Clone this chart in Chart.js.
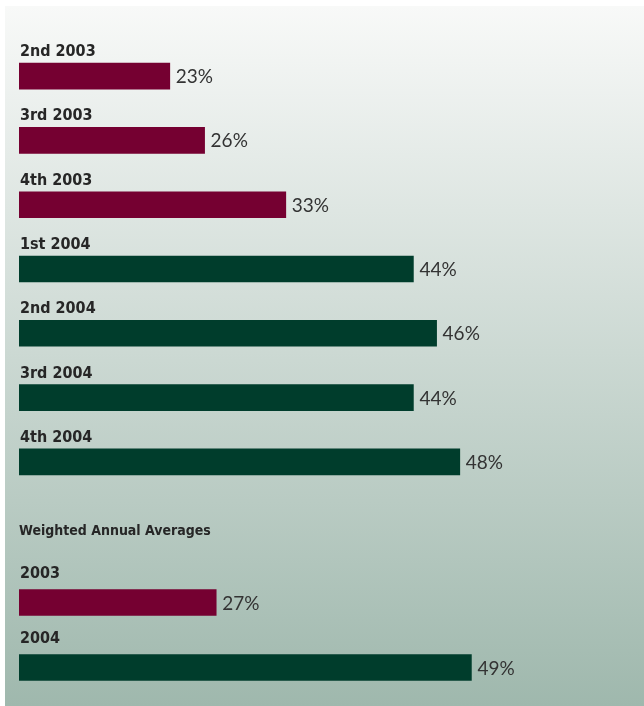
<!DOCTYPE html>
<html>
<head>
<meta charset="utf-8">
<script src="https://cdn.jsdelivr.net/npm/chart.js@4.4.0/dist/chart.umd.min.js"></script>
<style>
    html, body { margin: 0; padding: 0; background: #fff; }
    body { width: 644px; height: 706px; position: relative; overflow: hidden; }
    .panel {
        position: absolute; left: 5px; top: 6px; right: 0; bottom: 0;
        background: linear-gradient(to bottom, #f8f9f8 0%, #9fb8ad 100%);
    }
    #quarters { position: absolute; left: 0; top: 0; }
    #annual { position: absolute; left: 0; top: 500px; }
</style>
</head>
<body>
<div class="panel"></div>
<canvas id="quarters" width="644" height="500"></canvas>
<canvas id="annual" width="644" height="206"></canvas>
<script>
// Quarterly figures
const quarterLabels = ['2nd 2003', '3rd 2003', '4th 2003', '1st 2004', '2nd 2004', '3rd 2004', '4th 2004'];
const quarterValues = [23, 26, 33, 44, 46, 44, 48];

// Weighted annual averages
const annualTitle = 'Weighted Annual Averages';
const annualLabels = ['2003', '2004'];
const annualValues = [27, 49];

// Value axis (bars start at the axis minimum)
const axisMin = 10;
const axisMax = 60;

const MAROON = '#750031';
const GREEN = '#003d2c';

// 2003 bars are maroon, 2004 bars green
function yearColor(label) {
    return label.indexOf('2003') !== -1 ? MAROON : GREEN;
}

// Draws the category name above each bar and the percentage after it
const barText = {
    id: 'barText',
    afterDatasetsDraw(chart, args, opts) {
        const ctx = chart.ctx;
        const meta = chart.getDatasetMeta(0);
        const values = chart.data.datasets[0].data;
        const left = chart.chartArea.left;

        ctx.save();
        ctx.textAlign = 'left';
        ctx.textBaseline = 'alphabetic';
        meta.data.forEach(function(bar, i) {
            const top = bar.y - bar.height / 2;

            ctx.font = 'bold 16px "DejaVu Sans Condensed", "DejaVu Sans", sans-serif';
            ctx.fillStyle = '#262626';
            ctx.fillText(chart.data.labels[i], left + 1, top - opts.labelGap);

            ctx.font = '19px Lato, sans-serif';
            ctx.fillStyle = '#333333';
            ctx.fillText(values[i] + '%', bar.x + 6, bar.y + 7);
        });

        if (opts.heading) {
            ctx.font = 'bold 14px "DejaVu Sans Condensed", "DejaVu Sans", sans-serif';
            ctx.fillStyle = '#262626';
            ctx.fillText(opts.heading, left, opts.headingY);
        }
        ctx.restore();
    }
};

function makeChart(id, labels, values, padding, textOpts) {
    return new Chart(document.getElementById(id), {
        type: 'bar',
        data: {
            labels: labels,
            datasets: [{
                data: values,
                backgroundColor: labels.map(yearColor),
                borderWidth: 0,
                barThickness: 26
            }]
        },
        options: {
            indexAxis: 'y',
            responsive: false,
            animation: false,
            layout: { padding: padding },
            scales: {
                x: { display: false, min: axisMin, max: axisMax },
                y: { display: false }
            },
            plugins: {
                legend: { display: false },
                tooltip: { enabled: false },
                barText: textOpts
            }
        },
        plugins: [barText]
    });
}

makeChart('quarters', quarterLabels, quarterValues,
    { left: 19, right: 45, top: 44, bottom: 6 },
    { labelGap: 7 });

makeChart('annual', annualLabels, annualValues,
    { left: 19, right: 45, top: 70, bottom: 6 },
    { labelGap: 12, heading: annualTitle, headingY: 35 });
</script>
</body>
</html>
